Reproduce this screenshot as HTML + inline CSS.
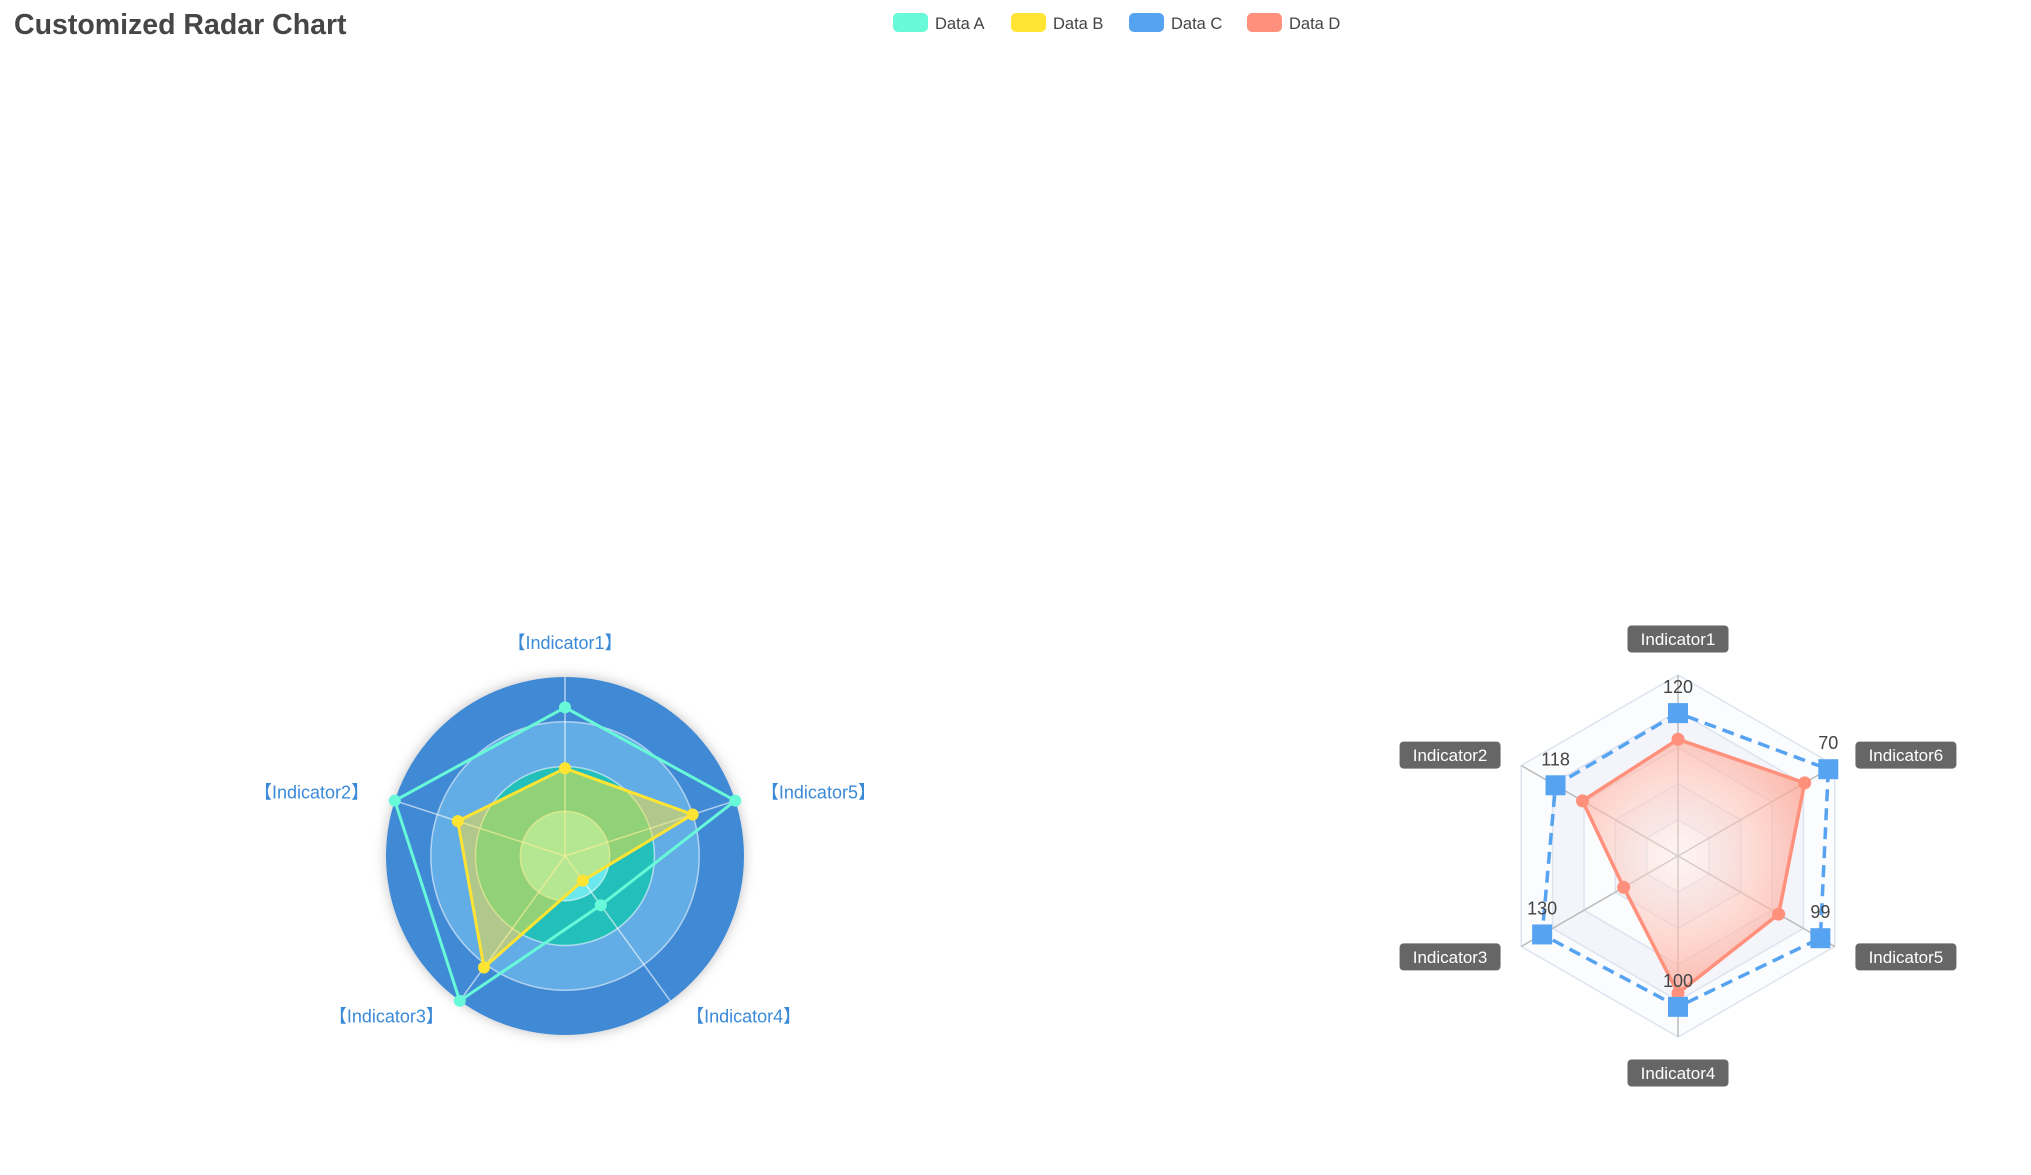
<!DOCTYPE html>
<html><head><meta charset="utf-8"><style>
html,body{margin:0;padding:0;background:#fff;}
svg{display:block;font-family:"Liberation Sans",sans-serif;}
</style></head><body>
<svg id="c" width="2031" height="1175" viewBox="0 0 2031 1175">
<defs>
<filter id="sh" x="-20%" y="-20%" width="140%" height="140%"><feDropShadow dx="0" dy="0" stdDeviation="6" flood-color="#000" flood-opacity="0.25"/></filter>
<radialGradient id="dg" cx="1678" cy="856" r="181" gradientUnits="userSpaceOnUse">
<stop offset="0" stop-color="#ffe9e4" stop-opacity="0.4"/><stop offset="1" stop-color="#ff917c" stop-opacity="0.85"/></radialGradient>
</defs>
<text x="14" y="34" font-size="28.5" font-weight="bold" fill="#464646">Customized Radar Chart</text>
<g id="legend"></g>
<g id="left"></g>
<g id="right"></g>
</svg>
<script>
const NS='http://www.w3.org/2000/svg';
const legendNames=['Data A','Data B','Data C','Data D'];
const legendColors=['#67f9d8','#ffe434','#56a3f1','#ff917c'];
const leftIndicators=['【Indicator1】','【Indicator2】','【Indicator3】','【Indicator4】','【Indicator5】'];
const leftMax=[100,100,100,100,100];
const dataA=[83,100,100,34,100];
const dataB=[49,63,77,17,75];
const rightIndicators=['Indicator1','Indicator2','Indicator3','Indicator4','Indicator5','Indicator6'];
const rightMax=[152,151,150,120,109,73];
const dataC=[120,118,130,100,99,70];
const dataD=[98,92,52,91,70,59];

function el(tag,attrs,parent){const e=document.createElementNS(NS,tag);for(const k in attrs)e.setAttribute(k,attrs[k]);if(parent)parent.appendChild(e);return e;}

// legend
const lg=document.getElementById('legend');
legendNames.forEach((n,i)=>{
  const x=893+i*118;
  const r=el('rect',{x:x,y:13,width:35,height:19,rx:5,fill:legendColors[i]},lg);
  
  
  const t=el('text',{x:x+42,y:29,'font-size':16.5,fill:'#444'},lg);
  t.textContent=n;
  
  
});

// left radar
(function(){
  const g=document.getElementById('left');
  const cx=565,cy=856,R=179,n=leftIndicators.length;
  const ang=i=>Math.PI/2+i*2*Math.PI/n;
  const pt=(i,v)=>[cx+Math.cos(ang(i))*R*v/leftMax[i],cy-Math.sin(ang(i))*R*v/leftMax[i]];
  const ringColors=['#6ae8ee','#22bfbb','#63ade6','#4189d4'];
  const outer=el('circle',{cx:cx,cy:cy,r:R,fill:ringColors[3],filter:'url(#sh)'},g);
  
  
  for(let k=2;k>=0;k--){
    const c=el('circle',{cx:cx,cy:cy,r:R*(k+1)/4,fill:ringColors[k],stroke:'rgba(255,255,255,0.55)','stroke-width':1.5},g);
    
    
  }
  for(let i=0;i<n;i++){
    const p=pt(i,leftMax[i]);
    const l=el('line',{x1:cx,y1:cy,x2:p[0],y2:p[1],stroke:'rgba(255,255,255,0.6)','stroke-width':1.5},g);
    
    
    const rr=Math.abs(Math.cos(ang(i)))<0.1?213:206;
    const lp=[cx+Math.cos(ang(i))*rr,cy-Math.sin(ang(i))*rr];
    const dx=Math.cos(ang(i));
    const anchor=Math.abs(dx)<0.1?'middle':(dx<0?'end':'start');
    const t=el('text',{x:lp[0],y:lp[1]+(lp[1]>cy?0:6),'text-anchor':anchor,'font-size':18,fill:'#3a8ad8'},g);
    t.textContent=leftIndicators[i];
    
    
  }
  function series(data,color,fill,name){
    const pts=data.map((v,i)=>pt(i,v));
    const pg=el('polygon',{points:pts.map(p=>p.join(',')).join(' '),fill:fill,stroke:color,'stroke-width':3,'stroke-linejoin':'round'},g);
    
    
    pts.forEach((p,i)=>{
      const c=el('circle',{cx:p[0],cy:p[1],r:6,fill:color},g);
      
      
    });
  }
  series(dataB,'#ffe434','rgba(255,228,52,0.5)','data-b');
  series(dataA,'#67f9d8','none','data-a');
})();

// right radar
(function(){
  const g=document.getElementById('right');
  const cx=1678,cy=856,R=181,n=rightIndicators.length,S=5;
  const ang=i=>Math.PI/2+i*2*Math.PI/n;
  const at=(i,r)=>[cx+Math.cos(ang(i))*r,cy-Math.sin(ang(i))*r];
  const pt=(i,v)=>at(i,R*v/rightMax[i]);
  const hex=r=>rightIndicators.map((_,i)=>at(i,r).join(',')).join(' ');
  for(let k=S;k>=1;k--){
    const h=el('polygon',{points:hex(R*k/S),fill:(k%2===0)?'#f3f5fa':'#fbfcfe',stroke:'#dde3ef','stroke-width':1.5},g);
    
    
  }
  for(let i=0;i<n;i++){
    const p=at(i,R);
    const l=el('line',{x1:cx,y1:cy,x2:p[0],y2:p[1],stroke:'#bbbbbb','stroke-width':1.5},g);
    
    
  }
  const dp=dataD.map((v,i)=>pt(i,v));
  const pd=el('polygon',{points:dp.map(p=>p.join(',')).join(' '),fill:'url(#dg)',stroke:'#ff917c','stroke-width':3.5,'stroke-linejoin':'round'},g);
  
  
  dp.forEach((p,i)=>{
    const c=el('circle',{cx:p[0],cy:p[1],r:6.5,fill:'#ff917c'},g);
    
    
  });
  const cp=dataC.map((v,i)=>pt(i,v));
  const pc=el('polygon',{points:cp.map(p=>p.join(',')).join(' '),fill:'none',stroke:'#56a3f1','stroke-width':3.5,'stroke-dasharray':'12 7'},g);
  
  
  cp.forEach((p,i)=>{
    const s=el('rect',{x:p[0]-10,y:p[1]-10,width:20,height:20,fill:'#56a3f1'},g);
    
    
    const t=el('text',{x:p[0],y:p[1]-20,'text-anchor':'middle','font-size':18,fill:'#444'},g);
    t.textContent=dataC[i];
    
    
  });
  for(let i=0;i<n;i++){
    const p=at(i,217);
    const dx=Math.cos(ang(i));
    let bx,by;
    if(Math.abs(dx)<0.1){bx=p[0];by=p[1];}
    else{bx=p[0]+(dx<0?-40:40);by=cy+(p[1]-cy)*0.93;}
    const w=101,h=27;
    const r=el('rect',{x:bx-w/2,y:by-h/2,width:w,height:h,rx:4,fill:'#666666'},g);
    
    
    const t=el('text',{x:bx,y:by+6,'text-anchor':'middle','font-size':17,fill:'#fff'},g);
    t.textContent=rightIndicators[i];
    
    
  }
})();
</script>
</body></html>
